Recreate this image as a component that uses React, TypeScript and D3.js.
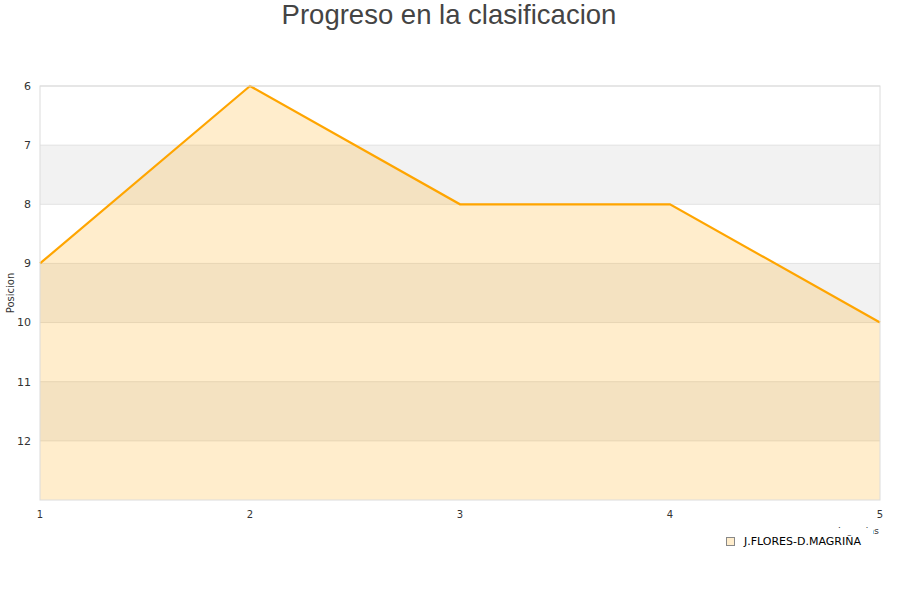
import React from "react";
import * as d3 from "d3";

const jornadas = [1, 2, 3, 4, 5];
const posiciones = [9, 6, 8, 8, 10];
const yTicks = [6, 7, 8, 9, 10, 11, 12];
const serieNombre = "J.FLORES-D.MAGRIÑA";
const titulo = "Progreso en la clasificacion";

const W = 900;
const H = 600;
const left = 40;
const right = 880;
const top = 86;
const bottom = 500;

export default function App() {
  const x = d3.scaleLinear().domain([1, 5]).range([left, right]);
  const y = d3.scaleLinear().domain([6, 13]).range([top, bottom]);

  const bands = d3.range(6, 13).map((v) => ({ v, gray: v % 2 === 1 }));

  const area = d3
    .area<number>()
    .x((_, i) => x(jornadas[i]))
    .y0(y(13))
    .y1((d) => y(d));
  const line = d3
    .line<number>()
    .x((_, i) => x(jornadas[i]))
    .y((d) => y(d));

  const tickFont = "'DejaVu Sans', Verdana, sans-serif";

  return (
    <svg
      width={W}
      height={H}
      style={{ position: "absolute", left: 0, top: 0, background: "#fff" }}
    >
      <text
        x={449}
        y={24}
        textAnchor="middle"
        fontFamily="'Liberation Sans', Arial, sans-serif"
        fontSize={27.5}
        fill="#444"
      >
        {titulo}
      </text>

      {bands.map((b) => (
        <rect
          key={b.v}
          x={left}
          y={y(b.v)}
          width={right - left}
          height={y(b.v + 1) - y(b.v)}
          fill={b.gray ? "#f2f2f2" : "#ffffff"}
        />
      ))}
      {yTicks.map((t) => (
        <line
          key={t}
          x1={left}
          x2={right}
          y1={y(t)}
          y2={y(t)}
          stroke="#e2e2e2"
          strokeWidth={1}
        />
      ))}

      <path d={area(posiciones) ?? ""} fill="#ffa500" fillOpacity={0.2} />
      <path
        d={line(posiciones) ?? ""}
        fill="none"
        stroke="#ffa500"
        strokeWidth={2.2}
      />

      <rect
        x={left}
        y={top}
        width={right - left}
        height={bottom - top}
        fill="none"
        stroke="#dcdcdc"
        strokeWidth={1}
      />

      {yTicks.map((t) => (
        <text
          key={t}
          x={31}
          y={y(t)}
          dy="0.35em"
          textAnchor="end"
          fontFamily={tickFont}
          fontSize={11}
          fill="#333"
        >
          {t}
        </text>
      ))}
      {jornadas.map((j) => (
        <text
          key={j}
          x={x(j)}
          y={518}
          textAnchor="middle"
          fontFamily={tickFont}
          fontSize={10}
          fill="#333"
        >
          {j}
        </text>
      ))}

      <text
        transform={`translate(14,${(top + bottom) / 2}) rotate(-90)`}
        textAnchor="middle"
        fontFamily={tickFont}
        fontSize={10}
        fill="#333"
      >
        Posicion
      </text>

      <text
        x={879}
        y={534}
        textAnchor="end"
        fontFamily={tickFont}
        fontSize={9.5}
        fill="#333"
      >
        Jornadas
      </text>

      <g>
        <rect x={715} y={528} width={158} height={30} fill="#fff" />
        <rect
          x={726.5}
          y={537.5}
          width={8}
          height={8}
          fill="#ffa500"
          fillOpacity={0.2}
          stroke="#888"
          strokeWidth={1}
        />
        <text
          x={744}
          y={541}
          dy="0.35em"
          fontFamily={tickFont}
          fontSize={11}
          fill="#000"
        >
          {serieNombre}
        </text>
      </g>
    </svg>
  );
}
